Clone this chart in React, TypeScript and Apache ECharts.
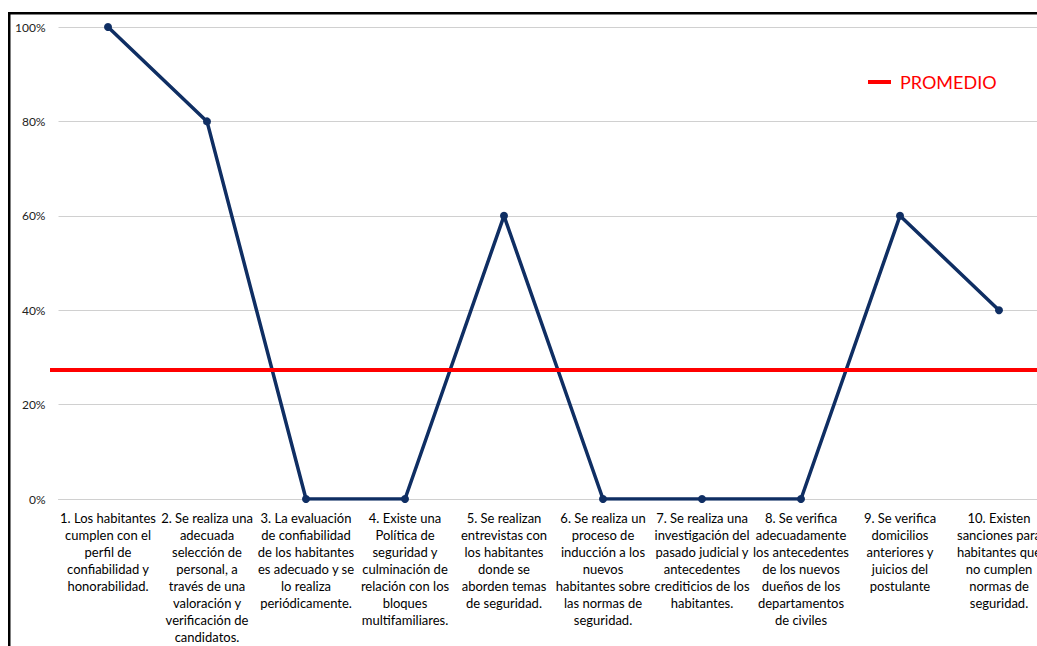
import React, { useEffect, useRef } from "react";
import * as echarts from "echarts";

const categories: string[] = [
  "1. Los habitantes\ncumplen con el\nperfil de\nconfiabilidad y\nhonorabilidad.",
  "2. Se realiza una\nadecuada\nselección de\npersonal, a\ntravés de una\nvaloración y\nverificación de\ncandidatos.",
  "3. La evaluación\nde confiabilidad\nde los habitantes\nes adecuado y se\nlo realiza\nperiódicamente.",
  "4. Existe una\nPolítica de\nseguridad y\nculminación de\nrelación con los\nbloques\nmultifamiliares.",
  "5. Se realizan\nentrevistas con\nlos habitantes\ndonde se\naborden temas\nde seguridad.",
  "6. Se realiza un\nproceso de\ninducción a los\nnuevos\nhabitantes sobre\nlas normas de\nseguridad.",
  "7. Se realiza una\ninvestigación del\npasado judicial y\nantecedentes\ncrediticios de los\nhabitantes.",
  "8. Se verifica\nadecuadamente\nlos antecedentes\nde los nuevos\ndueños de los\ndepartamentos\nde civiles",
  "9. Se verifica\ndomicilios\nanteriores y\njuicios del\npostulante",
  "10. Existen\nsanciones para\nhabitantes que\nno cumplen\nnormas de\nseguridad.",
];

const values: number[] = [100, 80, 0, 0, 60, 0, 0, 0, 60, 40];

const promedio: number = 27.3;

const yTicks = { min: 0, max: 100, interval: 20 };

const FONT = "Lato, Carlito, 'Noto Sans', sans-serif";

export default function App() {
  const ref = useRef<HTMLDivElement>(null);

  useEffect(() => {
    if (!ref.current) return;
    const chart = echarts.init(ref.current, undefined, { renderer: "svg" });
    chart.setOption({
      animation: false,
      backgroundColor: "#ffffff",
      textStyle: { fontFamily: FONT },
      grid: { left: 58.5, top: 27, width: 990, height: 472, containLabel: false },
      legend: {
        data: [{ name: "PROMEDIO", icon: "rect" }],
        left: 868,
        top: 73,
        padding: 0,
        itemWidth: 23,
        itemHeight: 4,
        itemGap: 10,
        selectedMode: false,
        textStyle: { color: "#ff0000", fontSize: 18, fontFamily: FONT, padding: [0, 0, 0, 4] },
      },
      xAxis: {
        type: "category",
        data: categories,
        boundaryGap: true,
        axisLine: { show: true, lineStyle: { color: "#d0d0d0", width: 1 } },
        axisTick: { show: false },
        axisLabel: {
          interval: 0,
          margin: 10,
          color: "#000000",
          fontSize: 13,
          lineHeight: 17,
          fontFamily: FONT,
          align: "center",
        },
      },
      yAxis: {
        type: "value",
        min: yTicks.min,
        max: yTicks.max,
        interval: yTicks.interval,
        axisLine: { show: false },
        axisTick: { show: false },
        axisLabel: {
          formatter: "{value}%",
          margin: 13,
          color: "#222222",
          fontSize: 12,
          fontFamily: FONT,
        },
        splitLine: { lineStyle: { color: "#d0d0d0", width: 1 } },
      },
      series: [
        {
          name: "Resultado",
          type: "line",
          data: values,
          color: "#0f2e63",
          lineStyle: { color: "#0f2e63", width: 3.5 },
          itemStyle: { color: "#0f2e63" },
          symbol: "circle",
          symbolSize: 8,
          z: 3,
        },
        {
          name: "PROMEDIO",
          type: "line",
          data: [],
          color: "#ff0000",
          itemStyle: { color: "#ff0000" },
          lineStyle: { color: "#ff0000", width: 4 },
          z: 4,
          markLine: {
            silent: true,
            symbol: "none",
            label: { show: false },
            lineStyle: { color: "#ff0000", width: 4, type: "solid" },
            z: 4,
            data: [[{ x: 50, yAxis: promedio }, { x: 1100, yAxis: promedio }]],
          },
        },
      ],
      graphic: [
        {
          type: "rect",
          shape: { x: 9.25, y: 13.25, width: 1200, height: 800 },
          style: { fill: "none", stroke: "#000000", lineWidth: 2.5 },
          silent: true,
          z: 100,
        },
      ],
    });
    return () => chart.dispose();
  }, []);

  return (
    <div
      style={{
        position: "fixed",
        left: 0,
        top: 0,
        width: 1037,
        height: 646,
        overflow: "hidden",
        background: "#ffffff",
      }}
    >
      <div ref={ref} style={{ width: 1100, height: 646 }} />
    </div>
  );
}
